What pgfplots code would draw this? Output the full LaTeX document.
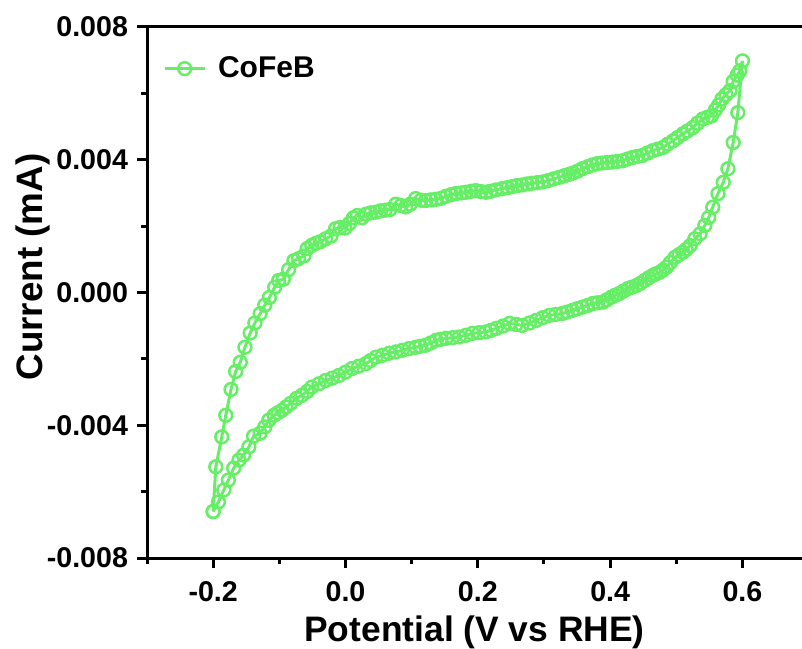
\documentclass[border=0pt]{standalone}
\usepackage{fontspec}
\setmainfont{Liberation Sans}
\usepackage{pgfplots}
\pgfplotsset{compat=1.18}
\usetikzlibrary{calc}
\definecolor{cvgreen}{HTML}{66EE66}

% CV loop: anodic sweep from -0.2 V up to 0.6 V, then cathodic back down
\pgfplotstableread{
V I
-0.200 -0.00660
-0.196 -0.00525
-0.187 -0.00435
-0.181 -0.00370
-0.173 -0.00292
-0.166 -0.00238
-0.159 -0.00210
-0.152 -0.00165
-0.144 -0.00122
-0.137 -0.00092
-0.129 -0.00064
-0.122 -0.00038
-0.115 -0.00015
-0.107 0.00016
-0.101 0.00036
-0.094 0.00040
-0.086 0.00069
-0.078 0.00096
-0.071 0.00102
-0.063 0.00110
-0.058 0.00132
-0.051 0.00142
-0.045 0.00148
-0.038 0.00153
-0.030 0.00162
-0.022 0.00170
-0.015 0.00192
-0.008 0.00196
-0.001 0.00194
0.006 0.00208
0.012 0.00225
0.018 0.00232
0.025 0.00225
0.031 0.00236
0.038 0.00240
0.046 0.00242
0.053 0.00246
0.060 0.00248
0.067 0.00250
0.076 0.00266
0.084 0.00262
0.091 0.00258
0.098 0.00266
0.106 0.00283
0.114 0.00278
0.121 0.00277
0.129 0.00279
0.137 0.00281
0.145 0.00284
0.152 0.00290
0.160 0.00295
0.167 0.00298
0.175 0.00300
0.182 0.00302
0.190 0.00305
0.197 0.00307
0.205 0.00304
0.212 0.00302
0.219 0.00305
0.227 0.00309
0.237 0.00313
0.245 0.00316
0.252 0.00319
0.259 0.00322
0.267 0.00324
0.274 0.00327
0.282 0.00329
0.290 0.00331
0.298 0.00333
0.306 0.00337
0.314 0.00342
0.323 0.00347
0.331 0.00352
0.338 0.00356
0.344 0.00360
0.351 0.00366
0.358 0.00373
0.366 0.00379
0.373 0.00384
0.380 0.00388
0.388 0.00390
0.396 0.00392
0.403 0.00393
0.411 0.00395
0.419 0.00397
0.426 0.00402
0.434 0.00407
0.441 0.00410
0.449 0.00413
0.456 0.00420
0.464 0.00427
0.472 0.00432
0.480 0.00437
0.487 0.00447
0.495 0.00457
0.502 0.00467
0.510 0.00478
0.517 0.00487
0.525 0.00497
0.532 0.00510
0.540 0.00523
0.547 0.00528
0.553 0.00532
0.559 0.00550
0.564 0.00565
0.569 0.00583
0.575 0.00596
0.581 0.00608
0.586 0.00636
0.592 0.00655
0.596 0.00668
0.600 0.00698
0.593 0.00542
0.586 0.00452
0.578 0.00373
0.571 0.00332
0.563 0.00298
0.555 0.00257
0.549 0.00226
0.543 0.00202
0.536 0.00177
0.528 0.00162
0.521 0.00141
0.515 0.00130
0.510 0.00121
0.504 0.00114
0.498 0.00106
0.491 0.00090
0.485 0.00076
0.480 0.00068
0.475 0.00061
0.469 0.00056
0.464 0.00051
0.458 0.00044
0.452 0.00036
0.446 0.00028
0.440 0.00021
0.433 0.00016
0.427 0.00012
0.420 0.00004
0.414 -0.00003
0.408 -0.00008
0.402 -0.00014
0.395 -0.00022
0.389 -0.00029
0.381 -0.00031
0.374 -0.00033
0.366 -0.00039
0.358 -0.00044
0.350 -0.00049
0.343 -0.00054
0.335 -0.00059
0.328 -0.00063
0.318 -0.00066
0.308 -0.00069
0.298 -0.00076
0.288 -0.00084
0.278 -0.00092
0.267 -0.00099
0.258 -0.00096
0.248 -0.00093
0.238 -0.00101
0.228 -0.00108
0.220 -0.00114
0.212 -0.00119
0.202 -0.00121
0.192 -0.00123
0.182 -0.00129
0.172 -0.00134
0.162 -0.00136
0.152 -0.00138
0.144 -0.00141
0.137 -0.00144
0.129 -0.00152
0.121 -0.00159
0.113 -0.00162
0.106 -0.00165
0.096 -0.00169
0.086 -0.00174
0.076 -0.00179
0.066 -0.00183
0.056 -0.00189
0.046 -0.00195
0.038 -0.00205
0.031 -0.00214
0.020 -0.00222
0.010 -0.00229
0.000 -0.00240
-0.010 -0.00250
-0.020 -0.00258
-0.030 -0.00265
-0.040 -0.00275
-0.051 -0.00285
-0.058 -0.00298
-0.066 -0.00310
-0.074 -0.00319
-0.083 -0.00334
-0.090 -0.00345
-0.096 -0.00355
-0.102 -0.00362
-0.108 -0.00370
-0.116 -0.00385
-0.122 -0.00405
-0.129 -0.00424
-0.139 -0.00433
-0.146 -0.00465
-0.154 -0.00490
-0.161 -0.00505
-0.169 -0.00529
-0.177 -0.00565
-0.184 -0.00595
-0.192 -0.00631
-0.200 -0.00660
}\cvdata

\begin{document}
\begin{tikzpicture}
\begin{axis}[
  name=ax,
  scale only axis,
  width=327.5pt, height=265.5pt,
  xmin=-0.3, xmax=0.69,
  ymin=-0.008, ymax=0.008,
  scaled y ticks=false, scaled x ticks=false,
  axis x line*=box, axis y line*=left,
  axis line style={line width=1.5pt},
  xtick pos=bottom, ytick pos=left,
  tick align=outside,
  major tick length=5pt, minor tick length=3pt,
  every tick/.style={black, line width=1.5pt},
  xtick={-0.2,0,0.2,0.4,0.6},
  xticklabels={-0.2,0.0,0.2,0.4,0.6},
  minor xtick={-0.3,-0.1,0.1,0.3,0.5},
  ytick={-0.008,-0.004,0,0.004,0.008},
  yticklabels={-0.008,-0.004,0.000,0.004,0.008},
  minor ytick={-0.006,-0.002,0.002,0.006},
  tick label style={font=\fontsize{14.3}{16}\selectfont\bfseries},
  xticklabel style={yshift=-3pt},
  yticklabel style={xshift=-1pt},
  xlabel={Potential (V vs RHE)},
  ylabel={Current (mA)},
  xlabel style={font=\fontsize{17.7}{20}\selectfont\bfseries, yshift=-0.5pt},
  ylabel style={font=\fontsize{18.4}{20}\selectfont\bfseries,
    at={(axis description cs:-0.174,0.548)}, anchor=center},
  legend style={draw=none, fill=none, at={(0.015,0.96)}, anchor=north west,
    font=\fontsize{15}{17}\selectfont\bfseries},
  legend cell align=left,
  legend image code/.code={
    \draw[mark repeat=2, mark phase=2] plot coordinates {(0cm,0cm) (0.35cm,0cm) (0.7cm,0cm)};
  },
]
\addplot[cvgreen, line width=1.5pt, mark=o, mark size=3.2pt,
  mark options={fill=white, line width=1.25pt, solid}] table[x=V, y=I] {\cvdata};
\legend{\hspace{4pt}CoFeB}
\end{axis}
\pgfresetboundingbox
\path[use as bounding box] ($(ax.south west)+(-73.5pt,-45pt)$) rectangle ($(ax.north east)+(0pt,13.5pt)$);
\end{tikzpicture}
\end{document}
